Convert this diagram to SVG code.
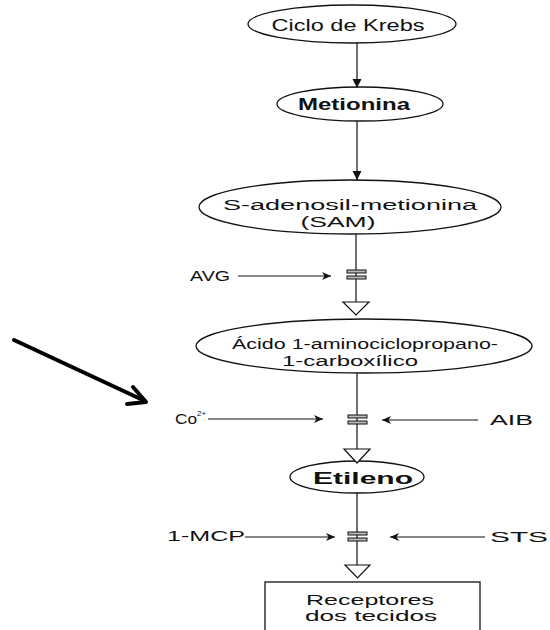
<svg xmlns="http://www.w3.org/2000/svg" width="550" height="630" viewBox="0 0 550 630">
<defs>
<style>
.node ellipse, .node rect { fill: #fff; stroke: #111; stroke-width: 1.3; }
.t { font-family: "Liberation Sans", Arial, sans-serif; fill: #111; }
.b { font-weight: bold; }
.ln { stroke: #111; stroke-width: 1.2; fill: none; }
.gate rect { fill: #bbb; stroke: #111; stroke-width: 1; }
.tri { fill: #fff; stroke: #111; stroke-width: 1.2; }
</style>
<marker id="ah" markerWidth="10" markerHeight="8" refX="9" refY="4" orient="auto" markerUnits="userSpaceOnUse">
<path d="M0,0 L9,4 L0,8 L2.5,4 z" fill="#111"/>
</marker>
<marker id="fh" markerWidth="10" markerHeight="10" refX="9" refY="5" orient="auto" markerUnits="userSpaceOnUse">
<path d="M0,0.5 L9,5 L0,9.5 z" fill="#111"/>
</marker>
</defs>
<rect width="550" height="630" fill="#fff"/>

<g id="krebs" class="node">
<ellipse cx="352" cy="24" rx="104" ry="19"/>
<text class="t" x="348" y="31" font-size="17" text-anchor="middle" textLength="153" lengthAdjust="spacingAndGlyphs">Ciclo de Krebs</text>
</g>
<g id="metionina" class="node">
<ellipse cx="360" cy="104" rx="83" ry="17"/>
<text class="t b" x="354" y="110" font-size="17" text-anchor="middle" textLength="112" lengthAdjust="spacingAndGlyphs">Metionina</text>
</g>
<g id="sam" class="node">
<ellipse cx="350" cy="207" rx="151" ry="27"/>
<text class="t" x="350" y="210" font-size="15.5" text-anchor="middle" textLength="254" lengthAdjust="spacingAndGlyphs">S-adenosil-metionina</text>
<text class="t" x="338" y="227" font-size="15.5" text-anchor="middle" textLength="75" lengthAdjust="spacingAndGlyphs">(SAM)</text>
</g>
<g id="acc" class="node">
<ellipse cx="364" cy="346" rx="168" ry="27"/>
<text class="t" x="365" y="349" font-size="15.5" text-anchor="middle" textLength="266" lengthAdjust="spacingAndGlyphs">Ácido 1-aminociclopropano-</text>
<text class="t" x="350" y="366" font-size="15.5" text-anchor="middle" textLength="136" lengthAdjust="spacingAndGlyphs">1-carboxílico</text>
</g>
<g id="etileno" class="node">
<ellipse cx="357" cy="477" rx="67" ry="16"/>
<text class="t b" x="363" y="484" font-size="17" text-anchor="middle" textLength="100" lengthAdjust="spacingAndGlyphs">Etileno</text>
</g>
<g id="receptores" class="node">
<rect x="265" y="582" width="215" height="60"/>
<text class="t" x="370" y="605" font-size="15" text-anchor="middle" textLength="128" lengthAdjust="spacingAndGlyphs">Receptores</text>
<text class="t" x="371" y="621" font-size="15" text-anchor="middle" textLength="132" lengthAdjust="spacingAndGlyphs">dos tecidos</text>
</g>

<g id="labels">
<text class="t" x="190" y="281" font-size="14" textLength="40" lengthAdjust="spacingAndGlyphs">AVG</text>
<text class="t" x="175" y="424" font-size="14" textLength="22" lengthAdjust="spacingAndGlyphs">Co</text>
<text class="t" x="197" y="416" font-size="8">2+</text>
<text class="t" x="490" y="425" font-size="14" textLength="43" lengthAdjust="spacingAndGlyphs">AIB</text>
<text class="t" x="167" y="541" font-size="14" textLength="78" lengthAdjust="spacingAndGlyphs">1-MCP</text>
<text class="t" x="490" y="542" font-size="14" textLength="58" lengthAdjust="spacingAndGlyphs">STS</text>
</g>

<g id="connectors">
<line class="ln" x1="357" y1="43" x2="357" y2="88" marker-end="url(#fh)"/>
<line class="ln" x1="357" y1="121" x2="357" y2="180" marker-end="url(#fh)"/>
<line class="ln" x1="356" y1="234" x2="356" y2="302"/>
<line class="ln" x1="357" y1="373" x2="357" y2="449"/>
<line class="ln" x1="357" y1="493" x2="357" y2="565"/>
<line class="ln" x1="238" y1="276" x2="331" y2="276" marker-end="url(#ah)"/>
<line class="ln" x1="208" y1="419" x2="323" y2="419" marker-end="url(#ah)"/>
<line class="ln" x1="478" y1="420" x2="382" y2="420" marker-end="url(#ah)"/>
<line class="ln" x1="245" y1="537" x2="335" y2="537" marker-end="url(#ah)"/>
<line class="ln" x1="485" y1="537" x2="390" y2="537" marker-end="url(#ah)"/>
<g class="gate">
<rect x="347" y="270" width="19" height="3"/>
<rect x="347" y="276" width="19" height="3"/>
<rect x="348" y="415" width="19" height="3"/>
<rect x="348" y="421" width="19" height="3"/>
<rect x="348" y="532" width="19" height="3"/>
<rect x="348" y="538" width="19" height="3"/>
</g>
<polygon class="tri" points="343,302 369,302 356,315"/>
<polygon class="tri" points="344,449 370,449 357,463"/>
<polygon class="tri" points="345,565 370,565 357.5,578"/>
<g id="pointer" stroke="#000" stroke-width="4" stroke-linecap="round" stroke-linejoin="round" fill="none">
<line x1="14" y1="340" x2="145" y2="401"/>
<polyline points="133,387 146,402 127,404"/>
</g>
</g>
</svg>
